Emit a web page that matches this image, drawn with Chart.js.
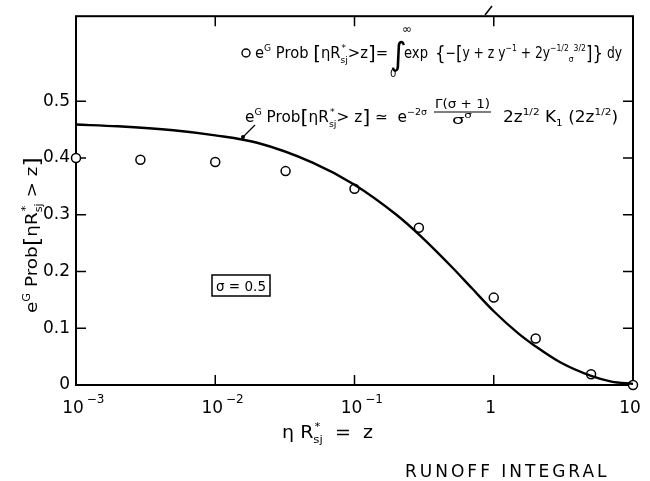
<!DOCTYPE html>
<html>
<head>
<meta charset="utf-8">
<script src="https://cdn.jsdelivr.net/npm/chart.js@4"></script>
<style>
  html, body { margin: 0; padding: 0; background: #fff; }
  canvas { display: block; }
</style>
</head>
<body>
<canvas id="runoff" width="650" height="481"></canvas>
<script>
// approximate curve
const zCurve = [0.001, 0.002, 0.005, 0.01, 0.02, 0.05, 0.1, 0.2, 0.3, 0.5, 0.7, 1, 1.5, 2, 3, 5, 7, 10];
const probCurve = [0.459, 0.456, 0.449, 0.440, 0.427, 0.392, 0.353, 0.300, 0.262, 0.208, 0.170, 0.130, 0.091, 0.068, 0.040, 0.016, 0.006, 0.002];

// exact integral, open circles
const zPoints = [0.001, 0.0029, 0.01, 0.032, 0.1, 0.29, 1, 2, 5, 10];
const probPoints = [0.400, 0.397, 0.393, 0.377, 0.346, 0.277, 0.154, 0.082, 0.019, 0.0];

// axes
const xTicks = [0.001, 0.01, 0.1, 1, 10];
const xTickBase = ['10', '10', '10', '1', '10'];
const xTickExp = ['\u22123', '\u22122', '\u22121', '', ''];
const yTicks = [0, 0.1, 0.2, 0.3, 0.4, 0.5];
const yTickLabels = ['0', '0.1', '0.2', '0.3', '0.4', '0.5'];

const FONT = '"DejaVu Sans", sans-serif';

// --- small rich-text helpers (sup/sub/brackets) ---
const t = s => ({ t: s });
const sup = s => ({ t: s, s: 0.62, dy: -0.45 });
const sub = s => ({ t: s, s: 0.62, dy: 0.28 });
const big = (s, k) => ({ t: s, s: k || 1.35, dy: 0.1 });
const st = (a, b) => ({ stack: [a, b] });

function runs(ctx, items, size, draw) {
  let cx = 0;
  for (const it of items) {
    if (it.stack) {
      ctx.font = `${size * 0.62}px ${FONT}`;
      const w = Math.max(ctx.measureText(it.stack[0]).width, ctx.measureText(it.stack[1]).width);
      if (draw) {
        ctx.fillText(it.stack[0], cx + 1, -size * 0.5);
        ctx.fillText(it.stack[1], cx, size * 0.3);
      }
      cx += w;
    } else {
      const s = size * (it.s || 1);
      ctx.font = `${s}px ${FONT}`;
      if (draw) ctx.fillText(it.t, cx, (it.dy || 0) * size);
      cx += ctx.measureText(it.t).width;
    }
  }
  return cx;
}

// draws items between x0 and x1 on baseline y
function fit(ctx, x0, x1, y, items, size) {
  const w = runs(ctx, items, size, false);
  ctx.save();
  ctx.translate(x0, y);
  ctx.scale((x1 - x0) / w, 1);
  runs(ctx, items, size, true);
  ctx.restore();
}

const probLabel = [t('e'), sup('G'), t(' Prob'), big('['), t('\u03b7R'), st('*', 'sj'), t(' > z'), big(']')];

const framePlugin = {
  id: 'frame',
  beforeDatasetsDraw(chart) {
    const { ctx, chartArea: a, scales } = chart;
    ctx.save();
    ctx.strokeStyle = '#000';
    ctx.lineWidth = 2;
    ctx.strokeRect(a.left, a.top, a.right - a.left, a.bottom - a.top);
    ctx.lineWidth = 1.5;
    ctx.beginPath();
    xTicks.forEach(v => {
      const x = scales.x.getPixelForValue(v);
      ctx.moveTo(x, a.bottom); ctx.lineTo(x, a.bottom - 10);
      ctx.moveTo(x, a.top); ctx.lineTo(x, a.top + 10);
    });
    yTicks.forEach(v => {
      const y = scales.y.getPixelForValue(v);
      ctx.moveTo(a.left, y); ctx.lineTo(a.left + 10, y);
      ctx.moveTo(a.right, y); ctx.lineTo(a.right - 10, y);
    });
    // break mark on the top edge
    ctx.moveTo(485, 15); ctx.lineTo(492, 6);
    ctx.stroke();
    ctx.restore();
  },
  afterDraw(chart) {
    const { ctx, scales } = chart;
    ctx.save();
    ctx.fillStyle = '#000';
    ctx.strokeStyle = '#000';
    ctx.textBaseline = 'alphabetic';

    // x tick labels with raised exponents
    xTicks.forEach((v, i) => {
      const x = scales.x.getPixelForValue(v);
      ctx.font = `17px ${FONT}`;
      const w = ctx.measureText(xTickBase[i]).width;
      ctx.fillText(xTickBase[i], x - w / 2 - 3, 413);
      if (xTickExp[i]) {
        ctx.font = `12px ${FONT}`;
        ctx.fillText(xTickExp[i], x + w / 2, 403);
      }
    });

    // axis titles
    ctx.save();
    ctx.translate(37, 313);
    ctx.rotate(-Math.PI / 2);
    fit(ctx, 0, 156, 0, probLabel, 16);
    ctx.restore();

    fit(ctx, 282, 373, 438, [t('\u03b7 R'), st('*', 'sj'), t('  =  z')], 17);

    ctx.font = `17px ${FONT}`;
    ctx.letterSpacing = '3px';
    ctx.fillText('RUNOFF INTEGRAL', 405, 477);
    ctx.letterSpacing = '0px';

    // legend line 1: open circle and the exact integral
    ctx.lineWidth = 1.4;
    ctx.beginPath();
    ctx.arc(246, 53, 4, 0, Math.PI * 2);
    ctx.stroke();
    fit(ctx, 255, 388, 58, [t('e'), sup('G'), t(' Prob '), big('['), t('\u03b7R'), st('*', 'sj'), t('>z'), big(']'), t('=')], 15);
    ctx.font = `32px ${FONT}`;
    ctx.fillText('\u222b', 390, 65);
    ctx.font = `12px ${FONT}`;
    ctx.fillText('\u221e', 402, 33);
    ctx.font = `10px ${FONT}`;
    ctx.fillText('0', 390, 77);
    fit(ctx, 404, 428, 58, [t('exp')], 15);
    fit(ctx, 435, 622, 58, [big('{'), t('\u2212'), big('['), t('y + z y'), sup('\u22121'), t(' + 2y'), sup('\u22121/2'), sub('\u03c3'), sup('3/2'), big(']'), big('}'), t(' dy')], 15);

    // legend line 2: the approximation
    fit(ctx, 245, 427, 122, [t('e'), sup('G'), t(' Prob'), big('['), t('\u03b7R'), st('*', 'sj'), t('> z'), big(']'), t(' \u2243  e'), sup('\u22122\u03c3')], 15);
    fit(ctx, 435, 490, 108, [t('\u0393(\u03c3 + 1)')], 13);
    ctx.lineWidth = 1.2;
    ctx.beginPath();
    ctx.moveTo(434, 112); ctx.lineTo(491, 112);
    ctx.stroke();
    fit(ctx, 452, 472, 124, [t('\u03c3'), sup('\u03c3')], 13);
    fit(ctx, 503, 618, 122, [t('2z'), sup('1/2'), t(' K'), sub('1'), t(' (2z'), sup('1/2'), t(')')], 15);

    // pointer from the label to the curve
    ctx.lineWidth = 1.2;
    ctx.beginPath();
    ctx.moveTo(255, 125); ctx.lineTo(244, 136);
    ctx.stroke();
    ctx.beginPath();
    ctx.arc(243, 137, 2, 0, Math.PI * 2);
    ctx.fill();

    // sigma box
    ctx.lineWidth = 1.5;
    ctx.strokeRect(212, 275, 58, 21);
    fit(ctx, 216, 266, 291, [t('\u03c3 = 0.5')], 14);

    ctx.restore();
  }
};

new Chart(document.getElementById('runoff'), {
  type: 'scatter',
  data: {
    datasets: [
      {
        label: 'approximation',
        data: zCurve.map((z, i) => ({ x: z, y: probCurve[i] })),
        showLine: true,
        borderColor: '#000',
        borderWidth: 2.4,
        pointRadius: 0,
        cubicInterpolationMode: 'monotone',
        clip: false
      },
      {
        label: 'integral',
        data: zPoints.map((z, i) => ({ x: z, y: probPoints[i] })),
        showLine: false,
        pointRadius: 4.5,
        pointBorderWidth: 1.5,
        pointBorderColor: '#000',
        pointBackgroundColor: '#fff',
        clip: false
      }
    ]
  },
  options: {
    responsive: false,
    animation: false,
    devicePixelRatio: 1,
    layout: { padding: { top: 14, right: 17, left: 0, bottom: 0 } },
    plugins: { legend: { display: false }, tooltip: { enabled: false } },
    scales: {
      x: {
        type: 'logarithmic',
        min: 0.001,
        max: 10,
        afterBuildTicks: s => { s.ticks = xTicks.map(v => ({ value: v })); },
        afterFit: s => { s.height = 96; },
        grid: { display: false, drawTicks: false },
        border: { display: false },
        ticks: { display: false }
      },
      y: {
        min: 0,
        max: 0.65,
        afterBuildTicks: s => { s.ticks = yTicks.map(v => ({ value: v })); },
        afterFit: s => { s.width = 76; },
        grid: { display: false, drawTicks: false },
        border: { display: false },
        ticks: {
          color: '#000',
          padding: 6,
          font: { family: FONT, size: 17 },
          callback: (v, i) => yTickLabels[i]
        }
      }
    }
  },
  plugins: [framePlugin]
});
</script>
</body>
</html>
